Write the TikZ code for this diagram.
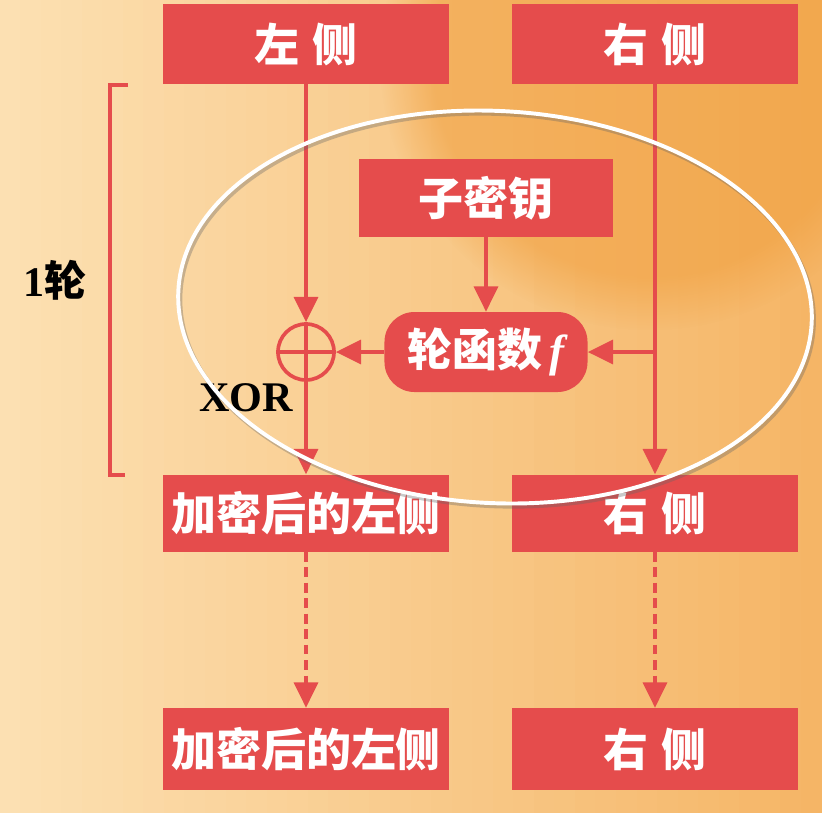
\documentclass[tikz,border=0pt]{standalone}
\usepackage{fontspec}
\usetikzlibrary{arrows.meta,fadings}
\newfontfamily\cjk{Noto Sans CJK SC}
\newfontfamily\tnr{Liberation Serif}
\definecolor{boxred}{RGB}{229,76,76}
\definecolor{peach}{RGB}{252,224,178}
\definecolor{deeporange}{RGB}{245,180,100}
\definecolor{swoosh}{RGB}{240,158,60}
\begin{document}
\begin{tikzpicture}[x=0.025cm,y=-0.025cm,
    box/.style={fill=boxred,text=white,minimum width=7.125cm,minimum height=2cm,inner sep=0pt,font=\cjk\bfseries\fontsize{32}{38}\selectfont},
    roundbox/.style={box,rounded corners=0.75cm},
    link/.style={draw=boxred,line width=2.6pt,-{Triangle[length=18pt,width=17pt]}},
    ring/.style={circle,draw=boxred,line width=2.6pt,minimum size=1.4cm,inner sep=0pt}]
    % background
    \useasboundingbox (0,0) rectangle (822,812);
    \foreach \i in {0,...,40}{
        \pgfmathtruncatemacro{\p}{2.5*\i}
        \fill[deeporange!\p!peach] (\i*20.55-0.5,-4) rectangle (\i*20.55+21,816);
    }
    \begin{scope}
        \clip (0,0) rectangle (822,812);
        \fill[swoosh,path fading=circle with fuzzy edge 20 percent,fill opacity=0.55] (650,60) circle (270);
    \end{scope}

    % boxes
    \node[box] (ltop) at (306,44) {左\hspace{0.3em}侧};
    \node[box] (rtop) at (655,44) {右\hspace{0.3em}侧};
    \node[box,minimum width=6.325cm,minimum height=1.925cm] (key) at (486,198) {子密钥};
    \node[roundbox,minimum width=5.075cm] (fun) at (486,352) {轮函数\,{\tnr\bfseries\itshape f}};
    \node[ring] (xor) at (306,352) {};
    \draw[boxred,line width=2.6pt] (xor.north) -- (xor.south) (xor.west) -- (xor.east);
    \node[box,minimum height=1.925cm] (lmid) at (306,513) {加密后的左侧};
    \node[box,minimum height=1.925cm] (rmid) at (655,513) {右\hspace{0.3em}侧};
    \node[box,minimum height=2.05cm] (lbot) at (306,749) {加密后的左侧};
    \node[box,minimum height=2.05cm] (rbot) at (655,749) {右\hspace{0.3em}侧};
    \coordinate (rjoin) at (655,352);

    % connectors
    \draw[link] (ltop) -- (xor.north);
    \draw[link] (key) -- (fun.north);
    \draw[link] (rjoin) -- (fun.east);
    \draw[link] (fun.west) -- (xor.east);
    \draw[link] (xor.south) -- (lmid.north);
    \draw[link] (rtop) -- (rmid.north);
    \foreach \a/\b in {lmid/lbot,rmid/rbot}{
        \draw[link,dash pattern=on 7pt off 4pt] (\a) -- (\b.north);
    }

    % round bracket
    \draw[boxred,line width=2.8pt] (128,85) -- (110,85) -- (110,475) -- (125,475);
    \node (round) at (55,280) {\fontsize{30}{36}\selectfont{\tnr\bfseries 1}{\cjk\bfseries 轮}};
    \node (xorlabel) at (246,398) {\tnr\bfseries\fontsize{30}{36}\selectfont XOR};

    % ellipse
    \draw[black!60,line width=3pt,opacity=0.35,rotate around={-3:(497,310)}] (497,310) ellipse [x radius=7.925cm,y radius=4.9cm];
    \draw[white,line width=2.8pt,rotate around={-3:(495,307)}] (495,307) ellipse [x radius=7.925cm,y radius=4.9cm];
\end{tikzpicture}
\end{document}
